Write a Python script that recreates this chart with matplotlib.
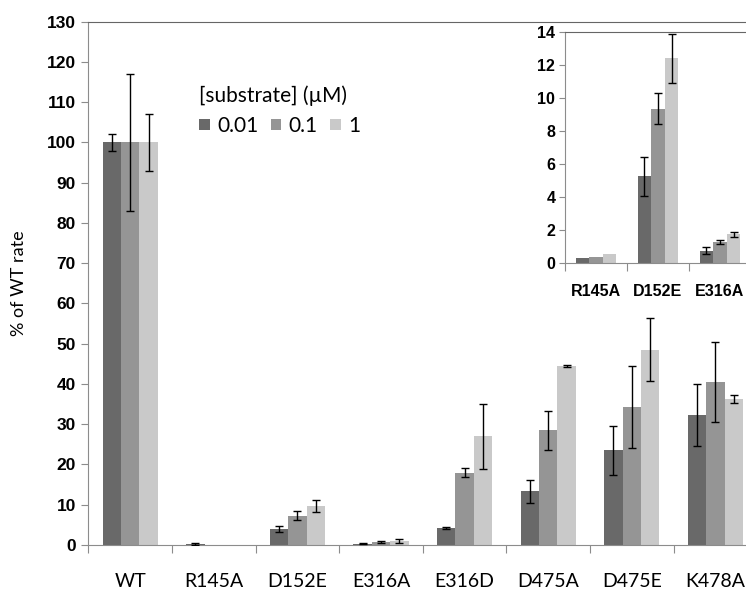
import matplotlib
matplotlib.use("Agg")
import matplotlib.pyplot as plt
import numpy as np

categories = ["WT", "R145A", "D152E", "E316A", "E316D", "D475A", "D475E", "K478A"]
series_labels = ["0.01", "0.1", "1"]
vals_001 = [100, 0.28, 4.0, 0.3, 4.2, 13.3, 23.5, 32.3]
vals_01 = [100, 0.05, 7.3, 0.8, 18.0, 28.5, 34.3, 40.5]
vals_1 = [100, 0.1, 9.7, 1.0, 27.0, 44.5, 48.5, 36.3]
err_001 = [2, 0.2, 0.7, 0.1, 0.3, 2.8, 6.0, 7.8]
err_01 = [17, 0, 1.2, 0.2, 1.2, 4.8, 10.2, 10.0]
err_1 = [7, 0, 1.5, 0.4, 8.0, 0.3, 7.8, 1.0]

inset_categories = ["R145A", "D152E", "E316A"]
inset_001 = [0.28, 5.25, 0.75]
inset_01 = [0.35, 9.35, 1.3]
inset_1 = [0.55, 12.4, 1.75]
inset_err_001 = [0, 1.2, 0.2]
inset_err_01 = [0, 0.95, 0.12]
inset_err_1 = [0, 1.5, 0.15]

colors = ["#696969", "#959595", "#c9c9c9"]
spine_col = "#8c8c8c"

plt.rcParams['font.family'] = ['Lato', 'DejaVu Sans']
boldfam = ['Liberation Sans', 'DejaVu Sans']

fig = plt.figure(figsize=(7.46, 5.91), dpi=100)
W, H = 746, 591
# main axes: x from 88 to 757 px, y from 21.7 (130) to 545 (0)
ax = fig.add_axes([88.3 / W, (H - 545) / H, 669 / W, 523.3 / H])

bw = 0.22
x = np.arange(len(categories))
for i, (v, e) in enumerate(zip([vals_001, vals_01, vals_1], [err_001, err_01, err_1])):
    ax.bar(x + (i - 1) * bw, v, bw, color=colors[i], label=series_labels[i], zorder=2)
    e_arr = np.array(e, dtype=float)
    mask = e_arr > 0
    ax.errorbar((x + (i - 1) * bw)[mask], np.array(v)[mask], yerr=e_arr[mask], fmt='none',
                ecolor='black', elinewidth=1, capsize=3, capthick=1, zorder=3)

ax.set_xlim(-0.5, len(categories) - 0.5)
ax.set_ylim(0, 130)
ax.set_yticks(np.arange(0, 131, 10))
ax.set_yticklabels([str(t) for t in range(0, 131, 10)], fontsize=12.5, fontweight='bold',
                   family=boldfam)
ax.set_xticks(np.arange(len(categories) + 1) - 0.5, minor=True)
ax.set_xticks(x)
ax.set_xticklabels(categories, fontsize=14)
ax.tick_params(axis='x', which='major', length=0, pad=20)
ax.tick_params(axis='x', which='minor', length=6, color=spine_col, width=0.8)
ax.tick_params(axis='y', length=5, color=spine_col, width=0.8, pad=4)
ax.spines['right'].set_visible(False)
ax.spines['top'].set_color('#666666')
ax.spines['left'].set_color(spine_col)
ax.spines['bottom'].set_color(spine_col)
for s in ['left', 'bottom', 'top']:
    ax.spines[s].set_linewidth(0.8)
ax.set_ylabel("% of WT rate", fontsize=13, labelpad=14)

leg = ax.legend(title="[substrate] (µM)", loc='upper left', bbox_to_anchor=(0.138, 0.915),
                ncol=3, frameon=False, fontsize=15, title_fontsize=15,
                handlelength=0.5, handleheight=0.5, handletextpad=0.35, columnspacing=0.6)
leg._legend_box.align = "left"

# inset axes
ia = fig.add_axes([565 / W, (H - 263) / H, 186 / W, 231 / H])
ia.set_facecolor('white')
xi = np.arange(len(inset_categories))
for i, (v, e) in enumerate(zip([inset_001, inset_01, inset_1], [inset_err_001, inset_err_01, inset_err_1])):
    ia.bar(xi + (i - 1) * bw, v, bw, color=colors[i], zorder=2)
    e_arr = np.array(e, dtype=float)
    mask = e_arr > 0
    ia.errorbar((xi + (i - 1) * bw)[mask], np.array(v)[mask], yerr=e_arr[mask], fmt='none',
                ecolor='black', elinewidth=1, capsize=3, capthick=1, zorder=3)
ia.set_xlim(-0.5, len(inset_categories) - 0.5)
ia.set_ylim(0, 14)
ia.set_yticks(np.arange(0, 15, 2))
ia.set_yticklabels([str(t) for t in range(0, 15, 2)], fontsize=11.5, fontweight='bold',
                   family=boldfam)
ia.set_xticks(np.arange(len(inset_categories) + 1) - 0.5, minor=True)
ia.set_xticks(xi)
ia.set_xticklabels(inset_categories, fontsize=11.5, fontweight='bold', family=boldfam)
ia.tick_params(axis='x', which='major', length=0, pad=15)
ia.tick_params(axis='x', which='minor', length=6, color=spine_col, width=0.8)
ia.tick_params(axis='y', length=4, color=spine_col, width=0.8, pad=3)
ia.spines['right'].set_visible(False)
ia.spines['top'].set_color('#666666')
ia.spines['left'].set_color(spine_col)
ia.spines['bottom'].set_color(spine_col)

fig.savefig("out.png", dpi=100)
